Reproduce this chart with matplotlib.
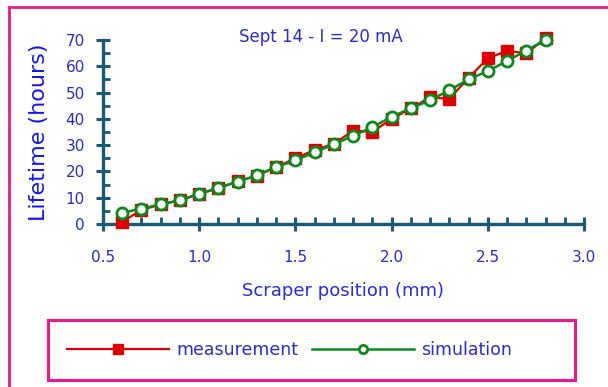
import matplotlib
matplotlib.use("Agg")
import matplotlib.pyplot as plt
from matplotlib.patches import Rectangle
from matplotlib.ticker import MultipleLocator

# scraper position (mm)
position = [0.6, 0.7, 0.8, 0.9, 1.0, 1.1, 1.2, 1.3, 1.4, 1.5, 1.6, 1.7,
            1.8, 1.9, 2.0, 2.1, 2.2, 2.3, 2.4, 2.5, 2.6, 2.7, 2.8]
# lifetime (hours)
measurement = [0.9, 5.3, 7.5, 9.0, 11.4, 13.6, 16.2, 18.4, 21.6, 25.0, 28.2, 30.5,
               35.5, 35.1, 39.9, 44.0, 48.2, 47.6, 55.6, 63.0, 65.9, 64.9, 70.6]
simulation = [4.3, 5.8, 7.5, 9.0, 11.5, 13.8, 16.1, 18.5, 21.7, 24.2, 27.3, 30.3,
              33.6, 36.8, 40.8, 44.0, 47.1, 50.9, 55.0, 58.2, 62.0, 66.0, 70.0]

blue = "#2b2bd9"
axis_col = "#175a78"
pink = "#f0168a"

plt.rcParams["font.family"] = ["DejaVu Sans"]

fig = plt.figure(figsize=(6.08, 3.87), dpi=100)
ax = fig.add_axes([103 / 608, 1 - 224 / 387, (584 - 103) / 608, (224 - 40) / 387])

ax.plot(position, measurement, color="#e00000", lw=1.6, marker="s", ms=9,
        mfc="#e00000", mec="#e00000", label="measurement", zorder=3, clip_on=False)
ax.plot(position, simulation, color="#0a8a1a", lw=1.8, marker="o", ms=8,
        mfc="white", mec="#0a8a1a", mew=2, label="simulation", zorder=4, clip_on=False)

ax.set_xlim(0.5, 3.0)
ax.set_ylim(0, 70)
ax.xaxis.set_major_locator(MultipleLocator(0.5))
ax.xaxis.set_minor_locator(MultipleLocator(0.1))
ax.yaxis.set_major_locator(MultipleLocator(10))
ax.yaxis.set_minor_locator(MultipleLocator(5))
ax.xaxis.set_major_formatter(matplotlib.ticker.FormatStrFormatter("%.1f"))

for s in ["top", "right"]:
    ax.spines[s].set_visible(False)
for s in ["left", "bottom"]:
    ax.spines[s].set_color(axis_col)
    ax.spines[s].set_linewidth(2.4)

ax.tick_params(which="major", direction="inout", length=10, width=2.2,
               color=axis_col, labelcolor=blue, labelsize=11)
ax.tick_params(which="minor", direction="in", length=5, width=2.0, color=axis_col)
ax.tick_params(axis="x", which="major", pad=14)
ax.tick_params(axis="y", which="major", pad=8)

ax.set_xlabel("Scraper position (mm)", color=blue, fontsize=13, labelpad=12)
ax.set_ylabel("Lifetime (hours)", color="#1515ff", fontsize=16, labelpad=12)
fig.text(0.527, 1 - 37 / 387, "Sept 14 - I = 20 mA", color=blue, fontsize=12,
         ha="center", va="center")

# outer pink frame (runs off the right and bottom edges)
fig.patches.append(Rectangle((9 / 608, -0.1), 1.2, 1.082, transform=fig.transFigure,
                             fill=False, edgecolor=pink, lw=2))

# legend box drawn separately, legend itself frameless
fig.patches.append(Rectangle((48 / 608, 1 - 380 / 387), (575 - 48) / 608, 60 / 387,
                             transform=fig.transFigure, fill=False,
                             edgecolor=pink, lw=2.2))
leg = fig.legend(loc="center left", bbox_to_anchor=(51 / 608, 1 - 350 / 387), ncol=2,
                 fontsize=12.5, frameon=False, handlelength=5.9,
                 columnspacing=0.8, handletextpad=0.4,
                 labelcolor=blue, markerscale=0.75)

fig.savefig("out.png", dpi=100)
